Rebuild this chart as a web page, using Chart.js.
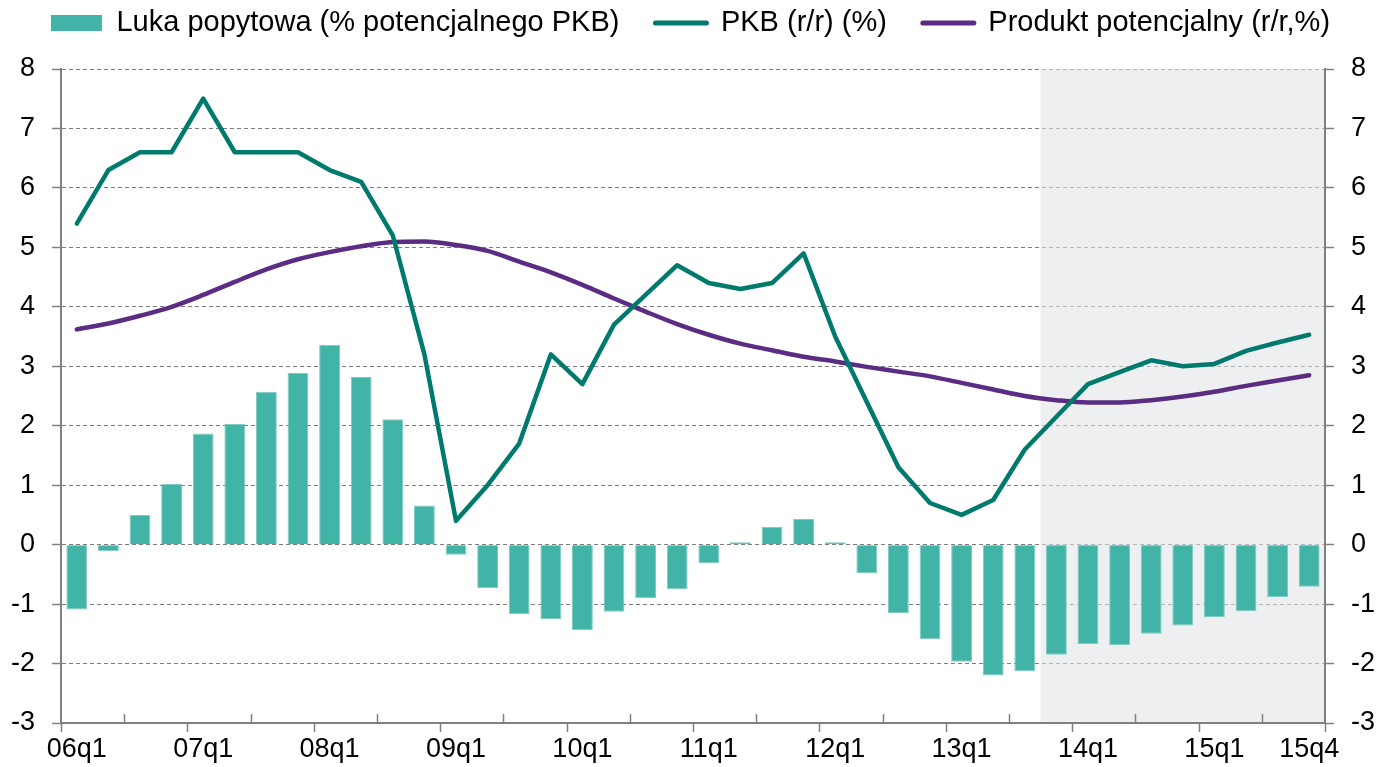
<!DOCTYPE html>
<html>
<head>
<meta charset="utf-8">
<script src="https://cdn.jsdelivr.net/npm/chart.js@4.4.1/dist/chart.umd.min.js"></script>
<style>
html,body{margin:0;padding:0;background:#fff;}
#wrap{width:1381px;height:767px;position:relative;}
</style>
</head>
<body>
<div id="wrap"><canvas id="c"></canvas></div>
<script>
const categories = ['06q1','06q2','06q3','06q4','07q1','07q2','07q3','07q4','08q1','08q2','08q3','08q4',
  '09q1','09q2','09q3','09q4','10q1','10q2','10q3','10q4','11q1','11q2','11q3','11q4',
  '12q1','12q2','12q3','12q4','13q1','13q2','13q3','13q4','14q1','14q2','14q3','14q4',
  '15q1','15q2','15q3','15q4'];
const lukaPopytowa = [-1.09,-0.11,0.50,1.02,1.87,2.03,2.57,2.89,3.36,2.82,2.11,0.66,
  -0.17,-0.73,-1.17,-1.25,-1.44,-1.13,-0.90,-0.75,-0.31,0.04,0.30,0.43,
  0.04,-0.48,-1.15,-1.59,-1.97,-2.20,-2.13,-1.85,-1.67,-1.69,-1.50,-1.36,
  -1.22,-1.12,-0.88,-0.71];
const pkb = [5.4,6.3,6.6,6.6,7.5,6.6,6.6,6.6,6.3,6.1,5.2,3.2,
  0.4,1.0,1.7,3.2,2.7,3.7,4.2,4.7,4.4,4.3,4.4,4.9,
  3.5,2.4,1.3,0.7,0.5,0.75,1.6,2.15,2.7,2.9,3.1,3.0,
  3.04,3.26,3.4,3.53];
const produktPotencjalny = [3.62,3.72,3.85,4.00,4.20,4.42,4.63,4.80,4.92,5.02,5.09,5.10,
  5.04,4.94,4.76,4.58,4.37,4.14,3.92,3.71,3.53,3.38,3.27,3.16,
  3.08,2.99,2.91,2.83,2.72,2.61,2.50,2.43,2.39,2.39,2.43,2.49,
  2.57,2.67,2.76,2.85];
const seriesNames = ['Luka popytowa (% potencjalnego PKB)','PKB (r/r) (%)','Produkt potencjalny (r/r,%)'];
const yTicks = {min:-3, max:8, step:1};
const forecastStart = '13q4';

const FONT = "'Liberation Sans', Arial, sans-serif";
const C_BAR = '#41B3A7', C_PKB = '#007A6C', C_POT = '#5B2C83', C_AXIS = '#808080';

const shadePlugin = {
  id: 'shade',
  beforeDatasetsDraw(chart) {
    const x = chart.scales.x, ca = chart.chartArea, ctx = chart.ctx;
    const i = categories.indexOf(forecastStart);
    const x0 = x.getPixelForValue(i - 0.5);
    ctx.save();
    ctx.fillStyle = 'rgba(222,225,230,0.55)';
    ctx.fillRect(x0, ca.top, ca.right - 1 - x0, ca.bottom - 1 - ca.top);
    ctx.restore();
  }
};
const xTickPlugin = {
  id: 'xticks',
  afterDraw(chart) {
    const x = chart.scales.x, ctx = chart.ctx, b = chart.chartArea.bottom;
    ctx.save();
    ctx.strokeStyle = C_AXIS; ctx.lineWidth = 1.5;
    for (let k = 0; k <= categories.length; k += 2) {
      const px = Math.round(x.getPixelForValue(k - 0.5)) + 0.5;
      ctx.beginPath();
      if (k % 4 === 0) { ctx.moveTo(px, b); ctx.lineTo(px, b + 9); }
      else { ctx.moveTo(px, b); ctx.lineTo(px, b - 9); }
      ctx.stroke();
    }
    ctx.restore();
  }
};
const legendFit = {
  id: 'legendFit',
  beforeInit(chart) {
    const orig = chart.legend.fit;
    chart.legend.fit = function() { orig.bind(chart.legend)(); this.height = 96.5; };
  }
};

new Chart(document.getElementById('c'), {
  data: {
    labels: categories,
    datasets: [
      { type:'bar', label: seriesNames[0], data: lukaPopytowa, backgroundColor: C_BAR,
        borderColor: '#7fcac1', borderWidth: 1, barPercentage: 0.66, categoryPercentage: 1.0,
        order: 2, yAxisID: 'y' },
      { type:'line', label: seriesNames[1], data: pkb, borderColor: C_PKB, backgroundColor: C_PKB,
        borderWidth: 4.5, pointRadius: 0, tension: 0, borderCapStyle:'round', borderJoinStyle:'round',
        order: 0, yAxisID: 'y' },
      { type:'line', label: seriesNames[2], data: produktPotencjalny, borderColor: C_POT, backgroundColor: C_POT,
        borderWidth: 4.5, pointRadius: 0, cubicInterpolationMode: 'monotone', borderCapStyle:'round', borderJoinStyle:'round',
        order: 1, yAxisID: 'y' }
    ]
  },
  options: {
    responsive: true, maintainAspectRatio: false, animation: false,
    layout: { padding: { top: -27.5, left: 0, right: 0, bottom: 0 } },
    plugins: {
      tooltip: { enabled: false },
      legend: {
        position: 'top', align: 'center',
        labels: {
          font: { family: FONT, size: 29 }, color: '#000', padding: 36,
          usePointStyle: true, pointStyleWidth: 51, boxHeight: 16,
          sort: (a, b) => a.datasetIndex - b.datasetIndex,
          generateLabels(chart) {
            return chart.data.datasets.map((ds, i) => ({
              text: ds.label, datasetIndex: i,
              fillStyle: ds.type === 'bar' ? C_BAR : ds.borderColor,
              strokeStyle: ds.type === 'bar' ? C_BAR : ds.borderColor,
              lineWidth: ds.type === 'bar' ? 0 : 5,
              pointStyle: ds.type === 'bar' ? 'rect' : 'line',
              lineCap: 'round', hidden: false, fontColor: '#000'
            }));
          }
        }
      }
    },
    scales: {
      x: {
        type: 'category', offset: true,
        grid: { display: false, drawTicks: false },
        border: { display: true, color: C_AXIS, width: 2 },
        ticks: {
          autoSkip: false, maxRotation: 0, minRotation: 0, padding: 10,
          font: { family: FONT, size: 27 }, color: '#000',
          callback: (v, i) => (categories[i].endsWith('q1') || i === categories.length - 1) ? categories[i] : ''
        },
        afterFit: s => { s.height = 44; }
      },
      y: {
        position: 'left', min: yTicks.min, max: yTicks.max,
        ticks: { stepSize: yTicks.step, padding: 17, font: { family: FONT, size: 27 }, color: '#000' },
        grid: { color: '#7c7c7c', lineWidth: 1, drawTicks: true, tickLength: 9, tickColor: C_AXIS, tickWidth: 1.5, tickBorderDash: [] },
        border: { display: true, color: C_AXIS, width: 2, dash: [4, 3] },
        afterFit: s => { s.width = 61; }
      },
      y2: {
        position: 'right', min: yTicks.min, max: yTicks.max,
        ticks: { stepSize: yTicks.step, padding: 17, font: { family: FONT, size: 27 }, color: '#000' },
        grid: { drawOnChartArea: false, drawTicks: true, tickLength: 9, tickColor: C_AXIS, tickWidth: 1.5, color: C_AXIS },
        border: { display: true, color: C_AXIS, width: 2 },
        afterFit: s => { s.width = 56; }
      }
    }
  },
  plugins: [legendFit, shadePlugin, xTickPlugin]
});
</script>
</body>
</html>
